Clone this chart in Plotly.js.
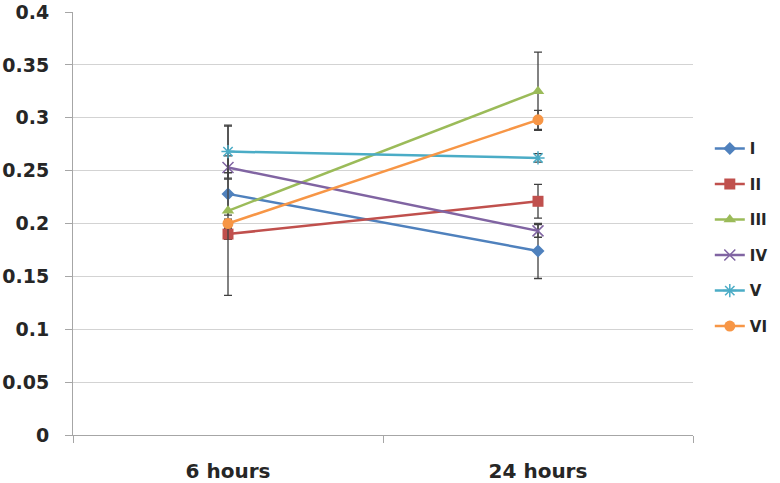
<!DOCTYPE html>
<html>
<head>
<meta charset="utf-8">
<script src="https://cdn.plot.ly/plotly-3.0.1.min.js"></script>
<style>html,body{margin:0;padding:0;background:#fff;}#chart{width:780px;height:483px;}</style>
</head>
<body>
<div id="chart"></div>
<script>
const categories = ["6 hours", "24 hours"];
const seriesNames = ["I", "II", "III", "IV", "V", "VI"];
const seriesValues = [
  [0.228, 0.174],
  [0.190, 0.221],
  [0.212, 0.325],
  [0.253, 0.193],
  [0.268, 0.262],
  [0.200, 0.298]
];
const seriesErrors = [
  [0.020, 0.026],
  [0.005, 0.016],
  [0.080, 0.037],
  [0.011, 0.006],
  [0.025, 0.004],
  [0.004, 0.009]
];
const yTicks = [0, 0.05, 0.1, 0.15, 0.2, 0.25, 0.3, 0.35, 0.4];

const colors = ["#4F81BD", "#C0504D", "#9BBB59", "#8064A2", "#4BACC6", "#F79646"];
const symbols = ["diamond", "square", "triangle-up", "x-thin-open", "asterisk-open", "circle"];
const sizes = [10, 11, 11, 11, 11, 11];

const traces = seriesNames.map((name, i) => ({
  type: "scatter",
  mode: "lines+markers",
  name: name,
  x: categories,
  y: seriesValues[i],
  legendgroup: "g" + i,
  line: {color: colors[i], width: 2.5},
  marker: {symbol: symbols[i], size: sizes[i], color: colors[i], line: {color: colors[i], width: (i === 3 || i === 4) ? 1.5 : 0}},
  error_y: {type: "data", array: seriesErrors[i], visible: true, color: "#404040", thickness: 1.3, width: 4}
}));

const FONT = "DejaVu Sans, Verdana, sans-serif";
const layout = {
  width: 780, height: 483,
  margin: {l: 73, r: 87, t: 12, b: 48, autoexpand: false},
  paper_bgcolor: "#ffffff", plot_bgcolor: "#ffffff",
  font: {family: FONT, color: "#262626"},
  showlegend: true,
  legend: {
    xref: "container", yref: "container",
    x: 0.910, xanchor: "left", y: 0.726, yanchor: "top",
    traceorder: "grouped", tracegroupgap: 13,
    font: {size: 15, family: FONT, weight: "bold", color: "#262626"},
    itemwidth: 30
  },
  xaxis: {
    type: "category", range: [-0.5, 1.5], automargin: false,
    showgrid: false, showline: true, linecolor: "#a6a6a6", linewidth: 1,
    ticks: "outside", tickson: "boundaries", ticklen: 7, tickcolor: "#a6a6a6",
    ticklabelstandoff: 18,
    tickfont: {size: 20, family: FONT, weight: "bold", color: "#262626"},
    zeroline: false, fixedrange: true
  },
  yaxis: {
    range: [0, 0.4], automargin: false, tickvals: yTicks, ticktext: yTicks.map(v => String(v)),
    showgrid: true, gridcolor: "#d3d3d3", gridwidth: 1,
    showline: true, linecolor: "#a6a6a6", linewidth: 1,
    ticks: "outside", ticklen: 7, tickcolor: "#a6a6a6",
    ticklabelstandoff: 12,
    tickfont: {size: 19, family: FONT, weight: "bold", color: "#262626"},
    zeroline: false, fixedrange: true
  }
};

Plotly.newPlot("chart", traces, layout, {displayModeBar: false, staticPlot: true});
</script>
</body>
</html>
